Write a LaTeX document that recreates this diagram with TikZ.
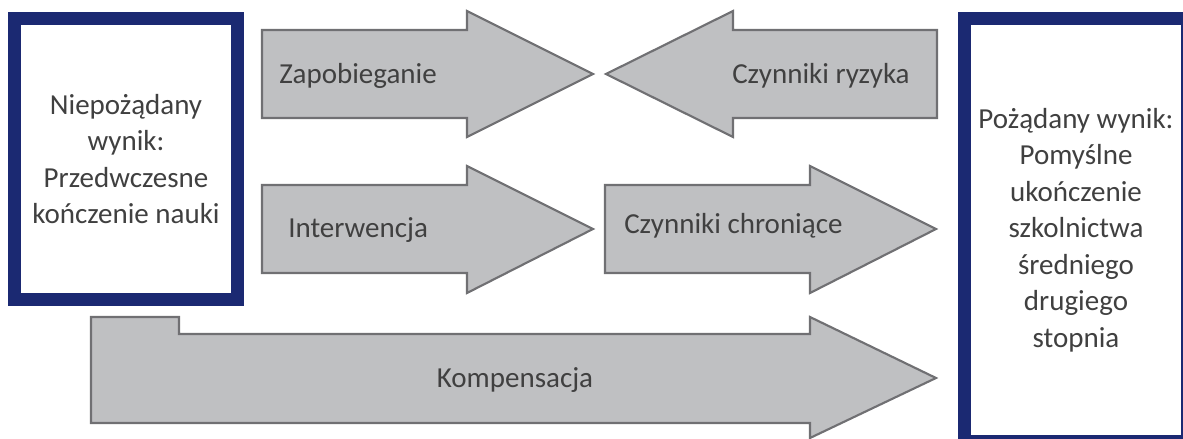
\documentclass[tikz,border=0pt]{standalone}
\usepackage{fontspec}
\setmainfont{Carlito}
\usepackage{tikz}
\usetikzlibrary{positioning}

\definecolor{boxblue}{RGB}{27,41,114}
\definecolor{arrowfill}{RGB}{191,192,194}
\definecolor{arrowline}{RGB}{112,112,115}
\definecolor{txtgray}{RGB}{64,64,64}

\tikzset{
  outcome/.style={draw=boxblue,line width=9.75pt,fill=white,align=center,
    text=txtgray,minimum width=167.25pt,inner sep=0pt},
  bigarrow/.style={fill=arrowfill,draw=arrowline,line width=1.6pt,line join=miter},
  label/.style={text=txtgray,inner sep=0pt}
}

\begin{document}
\begin{tikzpicture}[x=0.75pt,y=-0.75pt,
  every node/.style={font=\fontsize{21.75}{27.4}\selectfont}]

        \useasboundingbox (0,0) rectangle (1183,439);
        \clip (0,0) rectangle (1183,439);

        % outcome boxes
        \node[outcome,minimum height=210.75pt] (bad) at (126,159)
          {Niepożądany\\wynik:\\Przedwczesne\\kończenie nauki};
        \node[outcome,minimum height=317.25pt] (good) at (1076,230)
          {Pożądany wynik:\\Pomyślne\\ukończenie\\szkolnictwa\\średniego\\drugiego\\stopnia};

        % top row
        \draw[bigarrow] (262,30) -- (467,30) -- (467,11) -- (593,74)
          -- (467,137) -- (467,118) -- (262,118) -- cycle;
        \draw[bigarrow] (937,30) -- (733,30) -- (733,11) -- (606,74)
          -- (733,137) -- (733,118) -- (937,118) -- cycle;

        % middle row
        \draw[bigarrow] (262,185) -- (467,185) -- (467,166) -- (593,229)
          -- (467,293) -- (467,273) -- (262,273) -- cycle;
        \draw[bigarrow] (605,185) -- (810,185) -- (810,166) -- (936,229)
          -- (810,293) -- (810,273) -- (605,273) -- cycle;

        % bottom row
        \draw[bigarrow] (91,317) -- (179,317) -- (179,334) -- (810,334)
          -- (810,317) -- (936,378) -- (810,438) -- (810,423)
          -- (91,423) -- cycle;

        \node[label,anchor=base west] (prev) at (279,83) {Zapobieganie};
        \node[label,anchor=base west] (risk) at (732,83) {Czynniki ryzyka};
        \node[label,anchor=base west] (interv) at (288,237) {Interwencja};
        \node[label,anchor=base west] (protect) at (624,233) {Czynniki chroniące};
        \node[label,anchor=base] (comp) at (515,387) {Kompensacja};

    \end{tikzpicture}
\end{document}
